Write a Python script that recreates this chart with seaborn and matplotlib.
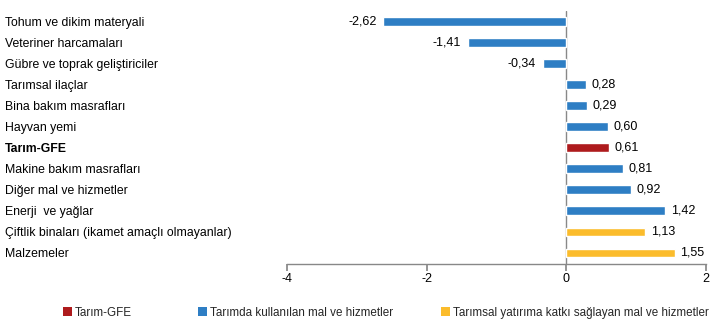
import matplotlib
matplotlib.use("Agg")
import matplotlib.pyplot as plt
import seaborn as sns
import pandas as pd
from matplotlib.patches import Patch

categories = [
    "Tohum ve dikim materyali",
    "Veteriner harcamaları",
    "Gübre ve toprak geliştiriciler",
    "Tarımsal ilaçlar",
    "Bina bakım masrafları",
    "Hayvan yemi",
    "Tarım-GFE",
    "Makine bakım masrafları",
    "Diğer mal ve hizmetler",
    "Enerji  ve yağlar",
    "Çiftlik binaları (ikamet amaçlı olmayanlar)",
    "Malzemeler",
]
values = [-2.62, -1.41, -0.34, 0.28, 0.29, 0.60, 0.61, 0.81, 0.92, 1.42, 1.13, 1.55]
groups = [
    "Tarımda kullanılan mal ve hizmetler",
    "Tarımda kullanılan mal ve hizmetler",
    "Tarımda kullanılan mal ve hizmetler",
    "Tarımda kullanılan mal ve hizmetler",
    "Tarımda kullanılan mal ve hizmetler",
    "Tarımda kullanılan mal ve hizmetler",
    "Tarım-GFE",
    "Tarımda kullanılan mal ve hizmetler",
    "Tarımda kullanılan mal ve hizmetler",
    "Tarımda kullanılan mal ve hizmetler",
    "Tarımsal yatırıma katkı sağlayan mal ve hizmetler",
    "Tarımsal yatırıma katkı sağlayan mal ve hizmetler",
]
legend_order = [
    "Tarım-GFE",
    "Tarımda kullanılan mal ve hizmetler",
    "Tarımsal yatırıma katkı sağlayan mal ve hizmetler",
]
palette = {
    "Tarım-GFE": "#AE1B1D",
    "Tarımda kullanılan mal ve hizmetler": "#2E7EC4",
    "Tarımsal yatırıma katkı sağlayan mal ve hizmetler": "#FBBC2C",
}
xticks = [-4, -2, 0, 2]

df = pd.DataFrame({"cat": categories, "val": values, "grp": groups})

sns.set_theme(style="white")
plt.rcParams["font.family"] = ["Liberation Sans", "DejaVu Sans"]

fig = plt.figure(figsize=(7.27, 3.36), dpi=100)
ax = fig.add_axes([287 / 727, 1 - 263.5 / 336, (706 - 287) / 727, (263.5 - 11) / 336])

sns.barplot(data=df, y="cat", x="val", hue="grp", hue_order=legend_order,
            palette=palette, dodge=False, orient="h", width=0.42,
            order=categories, ax=ax, legend=False, saturation=1)

ax.set_xlim(-4, 2)
ax.set_ylim(len(categories) - 0.5, -0.5)
ax.set_xticks(xticks)
ax.set_xticklabels([str(t) for t in xticks], fontsize=9)
ax.set_xlabel("")
ax.set_ylabel("")

for s in ["top", "right", "left"]:
    ax.spines[s].set_visible(False)
ax.spines["bottom"].set_color("#888888")
ax.spines["bottom"].set_linewidth(1)
ax.axvline(0, color="#888888", lw=1, zorder=0.5)
ax.tick_params(axis="x", bottom=True, length=5, color="#888888", pad=2, labelsize=9, labelcolor="black")
ax.tick_params(axis="y", left=False, pad=197, labelsize=8.8, labelcolor="black")
for lbl in ax.get_yticklabels():
    lbl.set_horizontalalignment("left")
    if lbl.get_text() == "Tarım-GFE":
        lbl.set_fontweight("bold")

for i, v in enumerate(values):
    txt = f"{v:.2f}".replace(".", ",")
    if v < 0:
        ax.annotate(txt, (v, i), xytext=(-5, 0), textcoords="offset points",
                    ha="right", va="center", fontsize=9, color="black")
    else:
        ax.annotate(txt, (v, i), xytext=(4, 0), textcoords="offset points",
                    ha="left", va="center", fontsize=9, color="black")

legend_x_px = [63, 198, 441]
for g, xp in zip(legend_order, legend_x_px):
    fig.legend([Patch(facecolor=palette[g], edgecolor="none")], [g],
               loc="center left", bbox_to_anchor=(xp / 727, 1 - 313 / 336),
               frameon=False, fontsize=8.4, handlelength=0.8, handleheight=0.8,
               handletextpad=0.2, borderpad=0, borderaxespad=0)

fig.savefig("out.png", dpi=100)
